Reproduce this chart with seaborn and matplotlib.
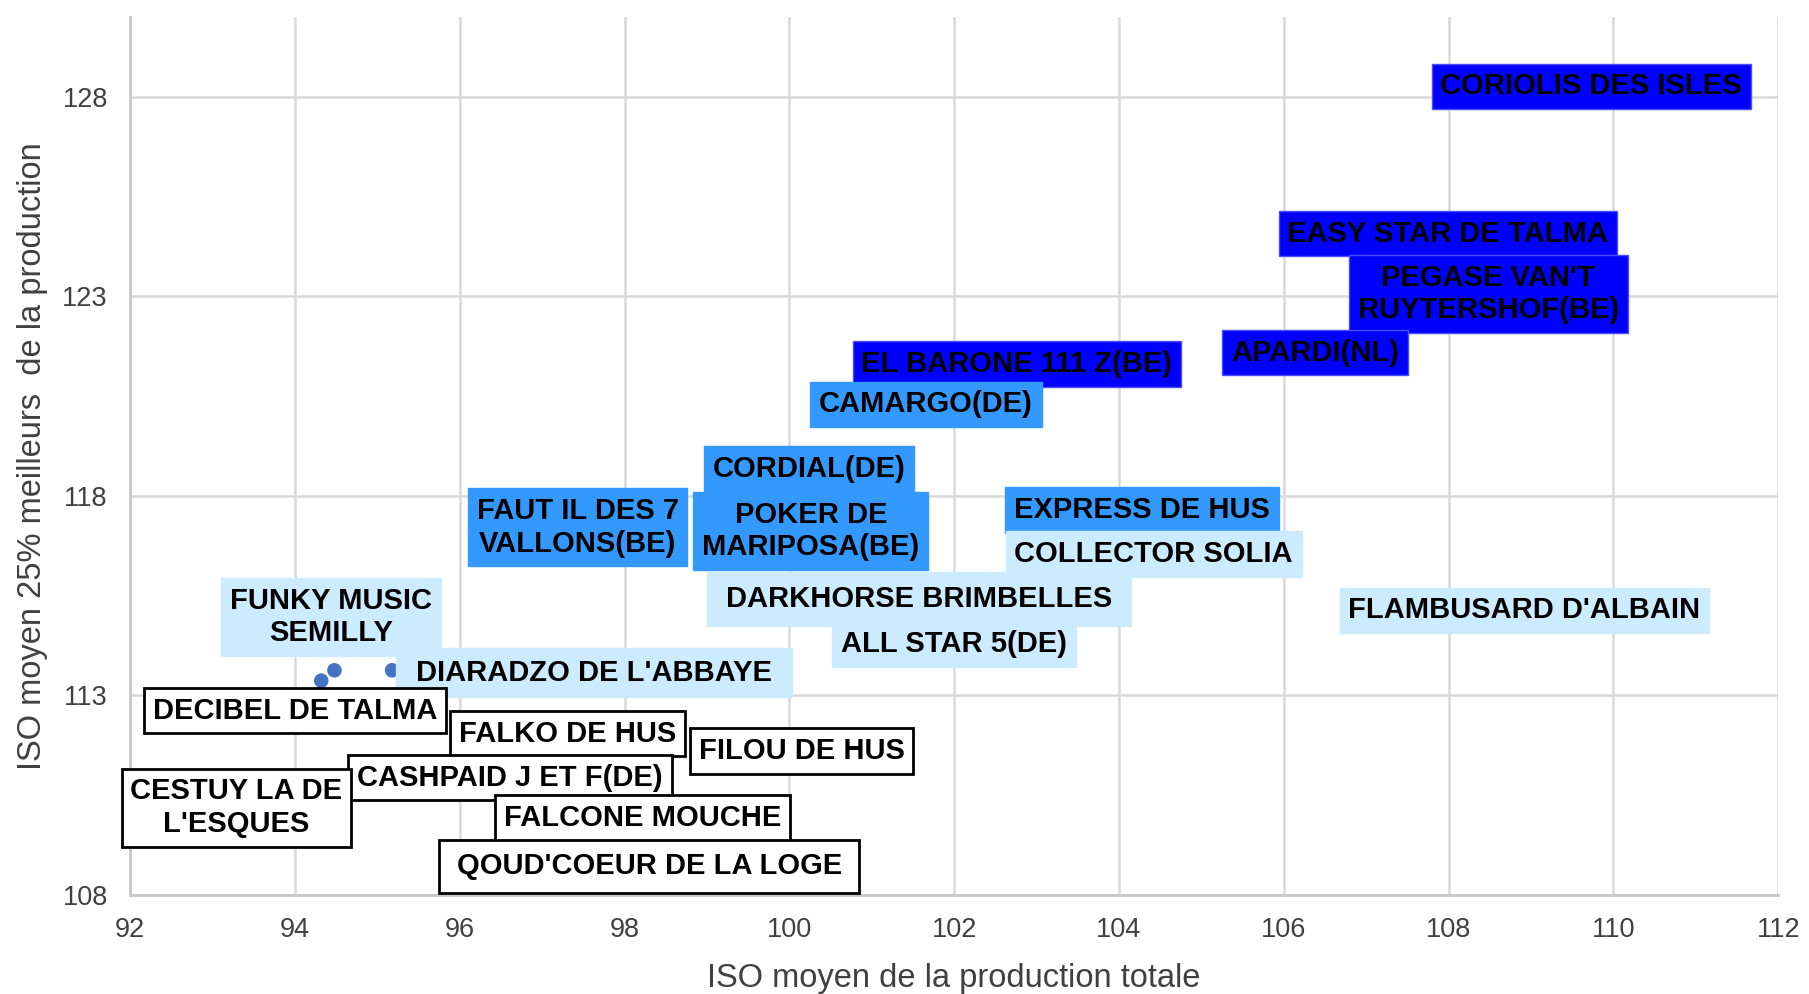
import matplotlib
matplotlib.use("Agg")
import matplotlib.pyplot as plt
import seaborn as sns
import pandas as pd
from matplotlib.path import Path

# horse names, ISO moyen production totale (x), ISO moyen 25% meilleurs (y)
horses = [
    "CORIOLIS DES ISLES", "EASY STAR DE TALMA", "PEGASE VAN'T\nRUYTERSHOF(BE)", "APARDI(NL)",
    "EL BARONE 111 Z(BE)", "CAMARGO(DE)", "CORDIAL(DE)", "FAUT IL DES 7\nVALLONS(BE)",
    "POKER DE\nMARIPOSA(BE)", "EXPRESS DE HUS", "COLLECTOR SOLIA", "DARKHORSE BRIMBELLES",
    "FLAMBUSARD D'ALBAIN", "ALL STAR 5(DE)", "FUNKY MUSIC\nSEMILLY", "DIARADZO DE L'ABBAYE",
    "DECIBEL DE TALMA", "FALKO DE HUS", "FILOU DE HUS", "CASHPAID J ET F(DE)",
    "CESTUY LA DE\nL'ESQUES", "FALCONE MOUCHE", "QOUD'COEUR DE LA LOGE",
]
iso_total = [109.73, 107.99, 108.48, 106.38, 102.76, 101.66, 100.24, 97.43,
             100.26, 104.28, 104.42, 101.57, 108.92, 102.0, 94.48, 95.18,
             94.32, 97.31, 100.15, 96.61, 93.29, 98.22, 98.30]
iso_top25 = [128.26, 124.57, 123.06, 121.59, 121.30, 120.29, 118.68, 117.21,
             117.12, 117.64, 116.54, 115.42, 115.13, 114.29, 113.63, 113.63,
             113.37, 112.04, 111.61, 110.94, 110.19, 109.93, 108.72]
groups = ["A", "A", "A", "A", "A", "B", "B", "B",
          "B", "B", "C", "C", "C", "C", "C", "C",
          "D", "D", "D", "D", "D", "D", "D"]

# label offsets (data units) for the labels dragged away from their point
label_dx = [0] * 14 + [-0.04, 2.45, -0.32] + [0] * 6
label_dy = [0] * 14 + [1.33, -0.06, -0.75] + [0] * 6
# box padding (fraction of font size), a few labels have larger boxes
pad_x = [0.3] * 23
pad_y = [0.3] * 23
pad_x[11], pad_y[11] = 0.65, 0.45   # DARKHORSE
pad_x[15], pad_y[15] = 0.7, 0.36    # DIARADZO
pad_x[22], pad_y[22] = 0.6, 0.42    # QOUD'COEUR

box_fill = {"A": "#0000FF", "B": "#3399FF", "C": "#CCEBFF", "D": "#FFFFFF"}
box_edge = {"A": "#4D4DFF", "B": "#3399FF", "C": "#CCEBFF", "D": "#000000"}


def make_box(px, py):
    def box(x0, y0, width, height, mutation_size):
        dx = px * mutation_size
        dy = py * mutation_size
        x0, y0 = x0 - dx, y0 - dy
        x1, y1 = x0 + width + 2 * dx, y0 + height + 2 * dy
        return Path([(x0, y0), (x1, y0), (x1, y1), (x0, y1), (x0, y0)], closed=True)
    return box


df = pd.DataFrame({"horse": horses, "x": iso_total, "y": iso_top25, "group": groups})

sns.set_theme(style="whitegrid")
plt.rcParams["font.family"] = ["Liberation Sans", "DejaVu Sans"]

fig, ax = plt.subplots(figsize=(18.09, 9.94), dpi=100)
fig.subplots_adjust(left=0.0719, right=0.983, top=0.983, bottom=0.0996)

sns.scatterplot(data=df, x="x", y="y", color="#4472C4", s=110, edgecolor="none", ax=ax, zorder=3)

for i, row in df.iterrows():
    g = row["group"]
    ax.annotate(row["horse"], (row["x"], row["y"]),
                xytext=(row["x"] + label_dx[i], row["y"] + label_dy[i]),
                ha="center", va="center", multialignment="center",
                fontsize=21, fontweight="bold", color="black", linespacing=1.2,
                zorder=4 + i * 0.01,
                bbox=dict(boxstyle=make_box(pad_x[i], pad_y[i]), fc=box_fill[g], ec=box_edge[g],
                          lw=2 if g == "D" else 1))

ax.set_xlim(92, 112)
ax.set_ylim(108, 130)
ax.set_xticks(range(92, 113, 2))
ax.set_yticks(range(108, 129, 5))
ax.grid(True, color="#D9D9D9", linewidth=1.8)
for side in ["top", "right"]:
    ax.spines[side].set_visible(False)
for side in ["left", "bottom"]:
    ax.spines[side].set_color("#C8C8C8")
    ax.spines[side].set_linewidth(2)
ax.tick_params(axis="both", length=0, labelsize=19.5, labelcolor="#404040")
ax.tick_params(axis="y", pad=16)
ax.tick_params(axis="x", pad=16)
ax.set_xlabel("ISO moyen de la production totale", fontsize=23.5, color="#404040", labelpad=14)
ax.set_ylabel("ISO moyen 25% meilleurs  de la production", fontsize=23.5, color="#404040", labelpad=10)

fig.savefig("out.png", dpi=100)
